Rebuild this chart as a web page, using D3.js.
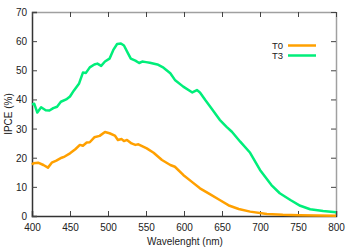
<!DOCTYPE html>
<html><head><meta charset="utf-8">
<script src="https://cdn.jsdelivr.net/npm/d3@7"></script>
<style>body{margin:0;background:#fff}svg{display:block}text{font-family:"Liberation Sans",Arial,sans-serif}</style>
</head><body><svg id="c" width="354" height="248"></svg>
<script>
const seriesNames = ["T0", "T3"];
const colors = ["#ffa000", "#00ee7a"];
const xTicks = [400, 450, 500, 550, 600, 650, 700, 750, 800];
const yTicks = [0, 10, 20, 30, 40, 50, 60, 70];
const t0Wave = [400,402,408,415,421,426,432,439,443,450,457,463,467,472,476,482,489,496,502,509,513,518,521,525,531,536,540,551,560,571,582,588,599,610,621,634,647,660,672,687,709,730,752,775,800];
const t0Vals = [17.6,18.1,18.3,17.5,16.6,18.3,19,20,20.4,21.5,22.9,24.4,24.1,25.2,25.3,27,27.5,28.8,28.4,27.6,26.1,26.4,25.7,26.1,24.9,24.4,24.6,23.2,21.7,19.2,17.5,16.9,14.1,11.8,9.5,7.5,5.5,3.5,2.4,1.5,0.7,0.4,0.3,0.2,0.1];
const t3Wave = [400,403,407,412,418,423,428,433,438,445,450,455,462,467,471,476,482,486,491,496,502,507,512,517,521,526,530,536,541,545,550,555,565,573,582,588,599,611,617,621,628,636,647,656,663,674,687,700,715,726,740,753,766,783,800];
const t3Vals = [38.3,38.5,35.5,37.3,36.3,36.2,37,37.5,39.2,40,41,43,45.5,49.2,49.1,51,52,52.3,51.5,53,54,57,59,59.2,58.5,56,54,53.3,52.5,53,52.8,52.6,52,50.9,49,46.7,44.4,42.4,43.2,42.4,39.8,37,33,30.6,28.9,25.5,21.7,15.8,10.6,7.8,5.5,3.5,2.3,1.7,1.3];

const svg = d3.select("#c");
const L = 32, R = 336, T = 12, B = 216;
const x = d3.scaleLinear().domain([400, 800]).range([L, R]);
const y = d3.scaleLinear().domain([0, 70]).range([B, T]);

svg.append("line").attr("x1", L).attr("x2", R).attr("y1", T + .5).attr("y2", T + .5).attr("stroke", "#a0a0a0").attr("stroke-width", 1.5);
svg.append("line").attr("x1", R + .5).attr("x2", R + .5).attr("y1", T).attr("y2", B).attr("stroke", "#a0a0a0").attr("stroke-width", 1.5);

const fs = 10;
const ax = svg.append("g").attr("transform", `translate(0,${B})`)
  .call(d3.axisBottom(x).tickValues(xTicks).tickSize(-5).tickPadding(8).tickFormat(d3.format("d")));
const ay = svg.append("g").attr("transform", `translate(${L},0)`)
  .call(d3.axisLeft(y).tickValues(yTicks).tickSize(-5).tickPadding(5).tickFormat(d3.format("d")));
const axT = svg.append("g").attr("transform", `translate(0,${T})`)
  .call(d3.axisTop(x).tickValues(xTicks).tickSize(-5).tickFormat(""));
const ayR = svg.append("g").attr("transform", `translate(${R},0)`)
  .call(d3.axisRight(y).tickValues(yTicks).tickSize(-5).tickFormat(""));
[ax, ay].forEach(g => { g.select(".domain").attr("stroke", "#333").attr("stroke-width", 1.5); g.selectAll(".tick line").attr("stroke", "#444"); g.selectAll("text").attr("font-size", fs).attr("fill", "#222").style("font-family", "Liberation Sans, Arial, sans-serif"); });
[axT, ayR].forEach(g => { g.select(".domain").remove(); g.selectAll(".tick line").attr("stroke", "#444"); });
ay.selectAll("text").attr("dy", "0.35em");

const line = d3.line().x(d => x(d[0])).y(d => y(d[1]));
const data = [d3.zip(t0Wave, t0Vals), d3.zip(t3Wave, t3Vals)];
data.forEach((d, i) => {
  svg.append("path").datum(d).attr("d", line).attr("fill", "none").attr("stroke", colors[i]).attr("stroke-width", 2.5).attr("stroke-linejoin", "round");
});

seriesNames.forEach((n, i) => {
  const ly = 45.5 + i * 10;
  svg.append("text").attr("x", 283).attr("y", ly).attr("dy", "0.35em").attr("text-anchor", "end").attr("font-size", 9.5).attr("fill", "#222").text(n);
  svg.append("line").attr("x1", 288).attr("x2", 316).attr("y1", ly).attr("y2", ly).attr("stroke", colors[i]).attr("stroke-width", 2.5);
});

svg.append("text").attr("x", 185).attr("y", 245).attr("text-anchor", "middle").attr("font-size", fs).attr("fill", "#222").text("Wavelenght (nm)");
svg.append("text").attr("transform", `translate(12,${(T + B) / 2}) rotate(-90)`).attr("text-anchor", "middle").attr("font-size", fs).attr("fill", "#222").text("IPCE (%)");
</script></body></html>
